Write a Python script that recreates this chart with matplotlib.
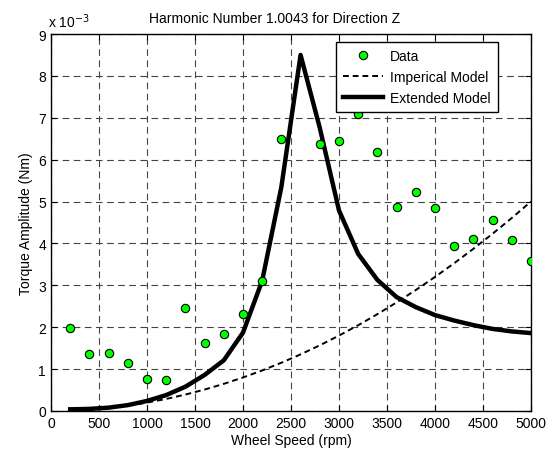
import matplotlib
matplotlib.use('Agg')
import matplotlib.pyplot as plt

# wheel speed (rpm)
speed = [200, 400, 600, 800, 1000, 1200, 1400, 1600, 1800, 2000, 2200, 2400,
         2600, 2800, 3000, 3200, 3400, 3600, 3800, 4000, 4200, 4400, 4600,
         4800, 5000]

# measured torque amplitude, x 1e-3 Nm (no point at 2600)
data_speed = [200, 400, 600, 800, 1000, 1200, 1400, 1600, 1800, 2000, 2200,
              2400, 2800, 3000, 3200, 3400, 3600, 3800, 4000, 4200, 4400,
              4600, 4800, 5000]
data_torque = [1.99, 1.37, 1.39, 1.15, 0.77, 0.74, 2.47, 1.63, 1.83, 2.31,
               3.10, 6.49, 6.37, 6.44, 7.09, 6.18, 4.87, 5.23, 4.84, 3.94,
               4.10, 4.57, 4.08, 3.59]

imperical = [0.008, 0.032, 0.072, 0.128, 0.20, 0.288, 0.392, 0.512, 0.648,
             0.80, 0.968, 1.152, 1.352, 1.568, 1.80, 2.048, 2.312, 2.592,
             2.888, 3.20, 3.528, 3.872, 4.232, 4.608, 5.0]

extended = [0.04, 0.05, 0.08, 0.14, 0.24, 0.38, 0.58, 0.86, 1.21, 1.87,
            3.11, 5.35, 8.50, 6.76, 4.79, 3.75, 3.13, 2.72, 2.48, 2.29,
            2.16, 2.05, 1.96, 1.90, 1.86]

plt.rcParams['font.family'] = ['Liberation Sans', 'DejaVu Sans']
plt.rcParams['font.size'] = 10

fig = plt.figure(figsize=(5.5, 4.52), dpi=100)
ax = fig.add_axes([0.0927, 0.0885, 0.8727, 0.834])

ax.plot(data_speed, data_torque, 'o', color='#00ff00', markeredgecolor='black',
        markersize=6, markeredgewidth=0.8, label='Data', zorder=3)
ax.plot(speed, imperical, '--', color='black', lw=1.4, label='Imperical Model',
        dashes=(3, 2))
ax.plot(speed, extended, '-', color='black', lw=3.2, label='Extended Model')

ax.set_xlim(0, 5000)
ax.set_ylim(0, 9)
ax.set_xticks(range(0, 5001, 500))
ax.set_yticks(range(0, 10))
ax.grid(True, color='#444444', linestyle=(0, (6, 4)), linewidth=0.8)
ax.tick_params(direction='in', top=True, right=True, length=4, labelsize=10)
for s in ax.spines.values():
    s.set_linewidth(1.0)

ax.set_xlabel('Wheel Speed (rpm)', labelpad=2)
ax.set_ylabel('Torque Amplitude (Nm)', labelpad=4)
fig.text(275 / 550, 1 - 19 / 452, 'Harmonic Number 1.0043 for Direction Z',
         ha='center', va='center', fontsize=10)
fig.text(48 / 550, 1 - 22 / 452, r'x 10$^{-3}$', ha='left', va='center',
         fontsize=10)

leg = ax.legend(loc='upper right', bbox_to_anchor=(0.931, 0.979),
                borderaxespad=0, fancybox=False, edgecolor='black',
                framealpha=1, borderpad=0.5, labelspacing=0.5,
                handlelength=2.9, handletextpad=0.5, fontsize=10)
leg.get_frame().set_linewidth(1.0)

fig.savefig('out.png', dpi=100)
